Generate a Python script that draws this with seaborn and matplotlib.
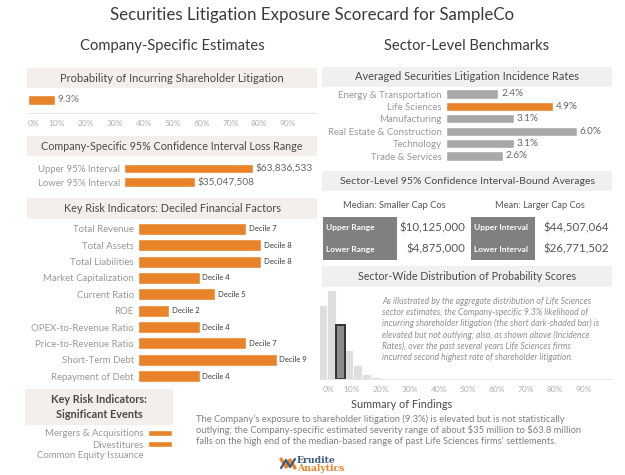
import matplotlib
matplotlib.use("Agg")
import matplotlib.pyplot as plt
import seaborn as sns
from matplotlib.patches import Rectangle
from matplotlib.ticker import FuncFormatter

# ---- data ----
prob_label = ["Probability"]
prob_value = [9.3]

loss_labels = ["Upper 95% Interval", "Lower 95% Interval"]
loss_values = [63836533, 35047508]

factor_labels = ["Total Revenue", "Total Assets", "Total Liabilities", "Market Capitalization",
                 "Current Ratio", "ROE", "OPEX-to-Revenue Ratio", "Price-to-Revenue Ratio",
                 "Short-Term Debt", "Repayment of Debt"]
factor_deciles = [7, 8, 8, 4, 5, 2, 4, 7, 9, 4]

event_labels = ["Mergers & Acquisitions", "Divestitures", "Common Equity Issuance"]
event_values = [1.0, 1.0, 0.04]

sectors = ["Energy & Transportation", "Life Sciences", "Manufacturing",
           "Real Estate & Construction", "Technology", "Trade & Services"]
sector_rates = [2.4, 4.9, 3.1, 6.0, 3.1, 2.6]
highlight_sector = "Life Sciences"

table_groups = ["Median: Smaller Cap Cos", "Mean: Larger Cap Cos"]
table_rows = [["Upper Range", "Lower Range"], ["Upper Interval", "Lower Interval"]]
table_values = [["$10,125,000", "$4,875,000"], ["$44,507,064", "$26,771,502"]]

hist_centers = [0, 3, 9, 12, 15, 18]
hist_counts = [74, 89, 29, 14, 5, 2]
company_bin = [6]
company_count = [54]

ORANGE = "#e8832a"
GREY_BAR = "#a8a8a8"
BAND_L = "#f4efea"
BAND_R = "#f0f0f0"
LABEL = "#999999"
DARK = "#555555"

sns.set_style("white")
plt.rcParams["font.family"] = ["Lato", "DejaVu Sans"]

W, H = 625, 475
fig = plt.figure(figsize=(6.25, 4.75), dpi=100)
fig.patch.set_facecolor("white")

bg = fig.add_axes([0, 0, 1, 1])
bg.set_xlim(0, W)
bg.set_ylim(H, 0)
bg.axis("off")

to_fit = []  # (text objects, reference index, target width in px)
tick_fit = []  # (axes, reference label index, target width)


def px_axes(x0, y0, x1, y1):
    a = fig.add_axes([x0 / W, 1 - y1 / H, (x1 - x0) / W, (y1 - y0) / H])
    a.patch.set_alpha(0)
    return a


def band(x0, y0, x1, y1, text, color, width):
    bg.add_patch(Rectangle((x0, y0), x1 - x0, y1 - y0, color=color, lw=0))
    t = bg.text((x0 + x1) / 2, (y0 + y1) / 2, text, ha="center", va="center",
                fontsize=7.5, color="#4a4a4a")
    to_fit.append(([t], 0, width))


def clean(a):
    sns.despine(ax=a, left=True, bottom=True)
    a.set_xlabel("")
    a.set_ylabel("")
    a.set_xticks([])
    a.tick_params(axis="y", length=0, pad=3, labelsize=6.5, labelcolor=LABEL)


# ---- titles ----
t = bg.text(W / 2, 15, "Securities Litigation Exposure Scorecard for SampleCo",
            ha="center", va="center", fontsize=11, color="#3a3a3a")
to_fit.append(([t], 0, 400))
t = bg.text(172, 46, "Company-Specific Estimates", ha="center", va="center",
            fontsize=9.5, color="#3a3a3a")
to_fit.append(([t], 0, 185))
t = bg.text(467, 46, "Sector-Level Benchmarks", ha="center", va="center",
            fontsize=9.5, color="#3a3a3a")
to_fit.append(([t], 0, 165))

# ---- probability ----
band(27, 68, 317, 88, "Probability of Incurring Shareholder Litigation", BAND_L, 222)
ax = px_axes(28, 88, 317, 113)
sns.barplot(x=prob_value, y=prob_label, orient="h", color=ORANGE, saturation=1,
            width=0.4, ax=ax)
ax.set_xlim(0, 100)
ax.set_ylim(0.52, -0.48)
lab = ax.bar_label(ax.containers[0], labels=[f"{v}%" for v in prob_value],
                   padding=2, fontsize=6.5, color="#777777")
to_fit.append((lab, 0, 22))
sns.despine(ax=ax, left=True)
ax.spines["bottom"].set_color("#e8e8e8")
ax.set_yticks([])
ax.set_xticks(range(0, 100, 10))
ax.xaxis.set_major_formatter(FuncFormatter(lambda v, p: f"{v:.0f}%"))
ax.tick_params(axis="x", length=0, pad=5, labelsize=6, labelcolor="#b0b0b0")
ax.get_xticklabels()[0].set_ha("left")

# ---- loss range ----
band(27, 136, 317, 156, "Company-Specific 95% Confidence Interval Loss Range", BAND_L, 261)
ax = px_axes(124, 161.75, 317, 188.75)
sns.barplot(x=loss_values, y=loss_labels, orient="h", color=ORANGE, saturation=1,
            width=0.7, ax=ax)
ax.set_xlim(0, 95.5e6)
lab = ax.bar_label(ax.containers[0], labels=[f"${v:,.0f}" for v in loss_values],
                   padding=2, fontsize=6.5, color="#666666")
to_fit.append((lab, 0, 57))
clean(ax)
tick_fit.append((ax, 0, 82))

# ---- deciled factors ----
band(27, 198, 317, 219, "Key Risk Indicators: Deciled Financial Factors", BAND_L, 215)
ax = px_axes(138, 220.8, 317, 384.2)
sns.barplot(x=factor_deciles, y=factor_labels, orient="h", color=ORANGE, saturation=1,
            width=0.73, ax=ax)
ax.set_xlim(0, 179 / 15.4)
lab = ax.bar_label(ax.containers[0], labels=[f"Decile {d}" for d in factor_deciles],
                   padding=2, fontsize=5.2, color="#3c3c3c")
to_fit.append((lab, 0, 28))
clean(ax)
tick_fit.append((ax, 3, 91))

# ---- significant events ----
bg.add_patch(Rectangle((25, 389), 148, 36, color=BAND_L, lw=0))
t = bg.text(99, 407, "Key Risk Indicators:\nSignificant Events", ha="center", va="center",
            fontsize=7.5, color="#4a4a4a", fontweight="bold", linespacing=1.35)
to_fit.append(([t], 0, 95))
ax = px_axes(148, 427.5, 175, 460.5)
sns.barplot(x=event_values, y=event_labels, orient="h", color=ORANGE, saturation=1,
            width=0.55, ax=ax)
ax.set_xlim(0, 1.125)
clean(ax)
tick_fit.append((ax, 0, 98))

# ---- sector incidence rates ----
band(322, 67, 612, 87, "Averaged Securities Litigation Incidence Rates", BAND_R, 220)
ax = px_axes(446, 87.8, 612, 162.2)
sec_colors = [ORANGE if s == highlight_sector else GREY_BAR for s in sectors]
sns.barplot(x=sector_rates, y=sectors, hue=sectors, palette=sec_colors, legend=False,
            orient="h", saturation=1, width=0.73, ax=ax)
ax.set_xlim(0, 166 / 21.8)
sec_labs = []
for cont, r in zip(ax.containers, sector_rates):
    sec_labs += ax.bar_label(cont, labels=[f"{r:.1f}%"], padding=2, fontsize=6.5,
                             color="#666666")
to_fit.append((sec_labs, 3, 22))
clean(ax)
tick_fit.append((ax, 3, 114))

# ---- confidence interval table ----
band(322, 171, 612, 191, "Sector-Level 95% Confidence Interval-Bound Averages", BAND_R, 252)
group_x = [(323, 397, 465), (471, 535, 609)]
group_w = [103, 90]
row_y = [217, 238.5, 260]
val_texts, lab_texts = [], []
for g, (lx0, lx1, vx) in enumerate(group_x):
    t = bg.text((lx0 + vx) / 2, 205, table_groups[g], ha="center", va="center",
                fontsize=7, color=DARK)
    to_fit.append(([t], 0, group_w[g]))
    bg.add_patch(Rectangle((lx0, row_y[0]), lx1 - lx0, row_y[-1] - row_y[0],
                           color="#808080", lw=0))
    for r in range(2):
        yc = (row_y[r] + row_y[r + 1]) / 2
        lab_texts.append(bg.text(lx0 + 3, yc, table_rows[g][r], ha="left", va="center",
                                 fontsize=5.5, color="white", fontweight="bold"))
        val_texts.append(bg.text(vx, yc, table_values[g][r], ha="right", va="center",
                                 fontsize=7.8, color=DARK))
to_fit.append((lab_texts, 0, 48))
to_fit.append((val_texts, 0, 66))

# ---- probability distribution ----
band(322, 266, 612, 287, "Sector-Wide Distribution of Probability Scores", BAND_R, 217)
ax = px_axes(320, 287, 612, 379)
sns.histplot(x=hist_centers, weights=hist_counts, binwidth=3, binrange=(-1.5, 19.5),
             color="#dedede", edgecolor="white", linewidth=0.6, alpha=1, ax=ax)
sns.histplot(x=company_bin, weights=company_count, bins=[4.5, 7.5],
             color="#8c8c8c", edgecolor="#333333", linewidth=1.4, alpha=1, ax=ax)
ax.set_xlim(-3 / 2.9, 289 / 2.9)
ax.set_ylim(0, 92)
sns.despine(ax=ax, left=True)
ax.spines["bottom"].set_color("#e8e8e8")
ax.set_yticks([])
ax.set_ylabel("")
ax.set_xticks(range(0, 100, 10))
ax.xaxis.set_major_formatter(FuncFormatter(lambda v, p: f"{v:.0f}%"))
ax.tick_params(axis="x", length=0, pad=5, labelsize=6, labelcolor="#b0b0b0")
ax.get_xticklabels()[0].set_ha("left")

note = ("As illustrated by the aggregate distribution of Life Sciences\n"
        "sector estimates, the Company-specific 9.3% likelihood of\n"
        "incurring shareholder litigation (the short dark-shaded bar) is\n"
        "elevated but not outlying; also, as shown above (Incidence\n"
        "Rates), over the past several years Life Sciences firms\n"
        "incurred second highest rate of shareholder litigation.")
t = bg.text(382, 297, note, ha="left", va="top", fontsize=6, style="italic",
            color="#909090", linespacing=1.25)
to_fit.append(([t], 0, 218))

# ---- summary ----
t = bg.text(402, 405, "Summary of Findings", ha="center", va="center",
            fontsize=7.5, color="#4a4a4a")
to_fit.append(([t], 0, 100))
summary = ("The Company\u2019s exposure to shareholder litigation (9.3%) is elevated but is not statistically\n"
           "outlying; the Company-specific estimated severity range of about \\$35 million to \\$63.8 million\n"
           "falls on the high end of the median-based range of past Life Sciences firms\u2019 settlements.")
t = bg.text(196, 414.5, summary, ha="left", va="top", fontsize=7, color="#808080",
            linespacing=1.15)
to_fit.append(([t], 0, 386))

# ---- logo ----
bg.plot([281, 286, 290, 295], [459, 467, 460, 468], color=ORANGE, lw=2.4)
bg.plot([281, 286, 290, 295], [468, 460, 467, 459], color="#3d5a80", lw=1.6)
logo = [bg.text(297, 460.5, "Erudite", ha="left", va="center", fontsize=5.5,
                fontweight="bold", color="#3d5a80", family="DejaVu Serif"),
        bg.text(297, 468.5, "Analytics", ha="left", va="center", fontsize=5.5,
                fontweight="bold", color=ORANGE, family="DejaVu Serif")]
to_fit.append((logo, 1, 48))

# ---- scale text sizes to the widths measured on the reference ----
fig.canvas.draw()
rend = fig.canvas.get_renderer()
for texts, i, width in to_fit:
    k = width / texts[i].get_window_extent(rend).width
    for tx in texts:
        tx.set_fontsize(tx.get_fontsize() * k)
for a, i, width in tick_fit:
    lbl = a.get_yticklabels()[i]
    k = width / lbl.get_window_extent(rend).width
    a.tick_params(axis="y", labelsize=lbl.get_fontsize() * k)

fig.savefig("out.png", dpi=100)
